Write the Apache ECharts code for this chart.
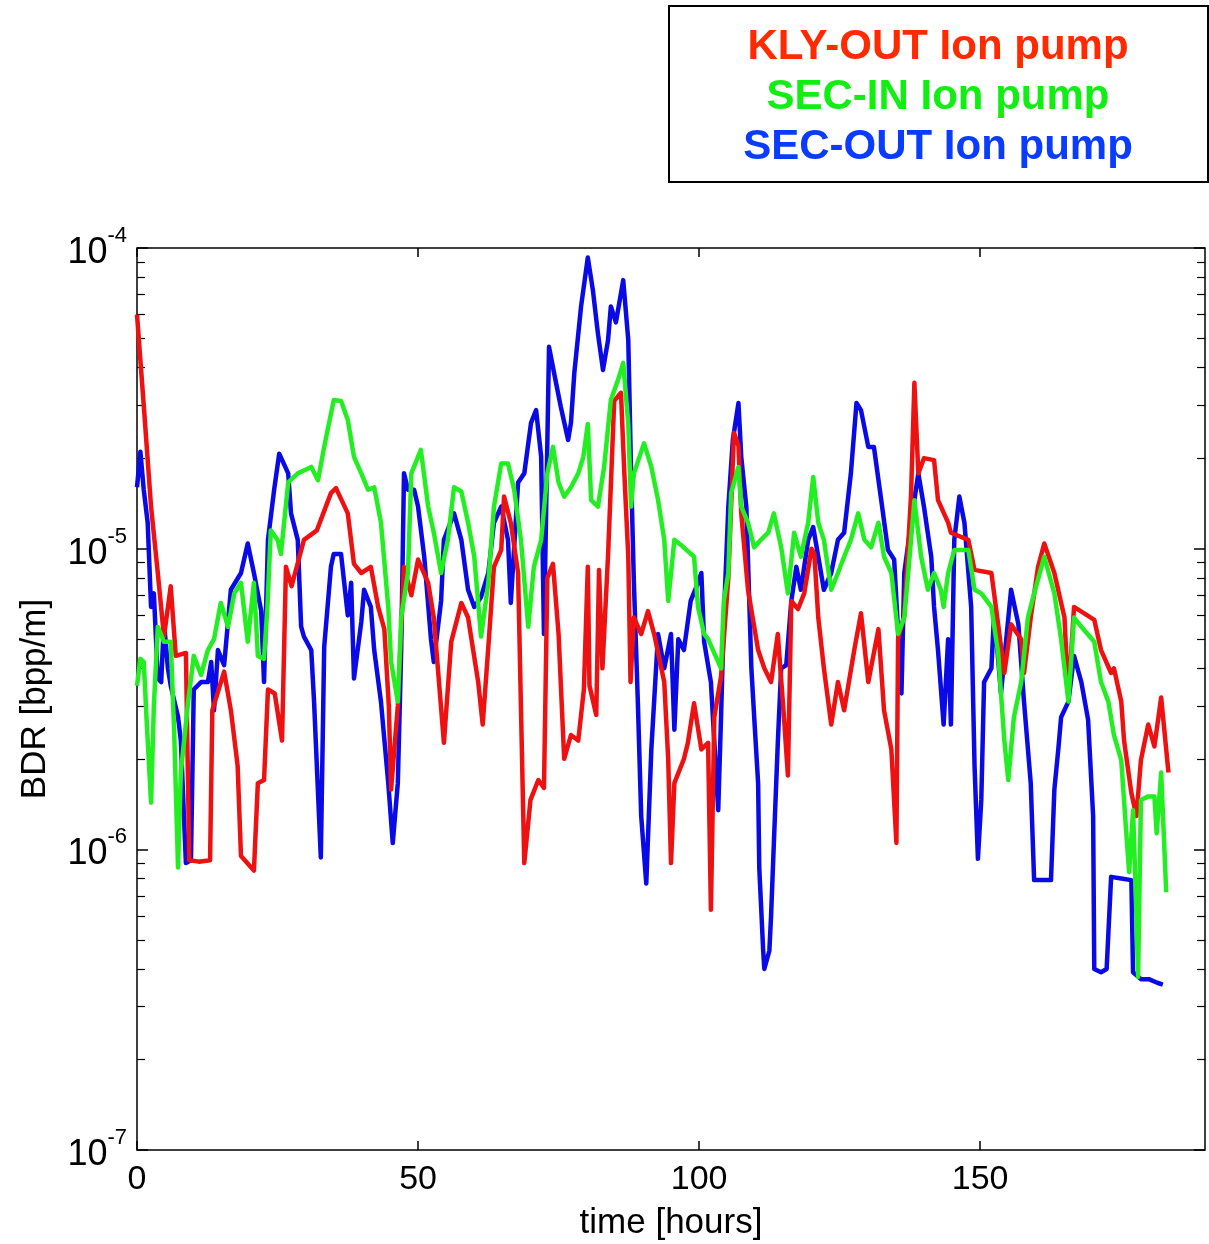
<!DOCTYPE html>
<html>
<head>
<meta charset="utf-8">
<script src="https://cdn.jsdelivr.net/npm/echarts@6/dist/echarts.min.js"></script>
<style>
  html, body { margin: 0; padding: 0; background: #fff; }
  #chart { width: 1209px; height: 1244px; }
</style>
</head>
<body>
<div id="chart"></div>
<script>
// Breakdown rate (BDR) in units of 1e-6 bpp/m, versus time in hours
const klyOutTime = [0,1.2,2.5,3.7,4.8,6,6.9,8.7,9.3,11,13,13.4,15.5,16.7,17.9,18.5,20.8,21.5,22.6,23.3,24.5,25.8,26.5,27.5,29.7,32,34.5,35.4,37.5,38.6,39.9,41.6,42.9,44,44.8,45.2,46.4,47.5,48.8,50,51.8,52.8,54.6,55.9,57.7,58.9,60.7,61.5,62.6,63.5,64.8,65.3,66.5,67.8,68.3,68.9,70,71.4,72.4,73,74,75,76,77.2,78.5,79.5,80.2,80.5,81.7,82.2,82.8,83.8,84.9,86.1,86.7,87.4,87.8,88.4,89.7,90.9,92,93.8,94.5,95,95.6,97.3,98,99.1,100.4,101.6,102.1,102.7,103.9,105.2,106.2,107,107.5,108.7,109.8,110.5,111.6,112.8,114,115.1,115.8,116.4,117.6,118.7,120,120.5,121.2,122.2,123.5,124.7,125.8,127.6,128.8,130.1,131.9,132.9,134.2,135.1,135.4,136.5,137.7,138.3,139,140,141.8,142.5,144.3,144.8,147.9,149,152,153.2,154.3,155.5,157.3,157.8,159,160.3,161.4,163.2,165,165.7,166.7,170.3,171.5,173.3,173.8,175.1,175.6,176.9,177.8,178.6,179.9,181,182.2,183.5];
const klyOutBDR  = [60,30,13.8,8.3,5.1,7.5,4.4,4.5,0.92,0.91,0.92,2.9,3.9,2.9,1.9,0.95,0.85,1.66,1.7,3.4,3.3,2.3,8.7,7.5,10.7,11.5,15.3,15.9,13.1,8.9,8.3,8.7,6.4,5.4,3.0,1.58,3.0,8.7,7.0,9.2,7.7,5.9,2.26,4.9,6.6,5.9,3.6,2.6,5.0,8.7,9.9,14.9,12.2,8.3,3.0,0.90,1.46,1.7,1.6,8.0,8.9,5.2,2.0,2.4,2.3,3.4,8.7,3.5,2.8,8.5,4.0,9.5,31,33,17.8,9.4,3.6,5.9,5.2,6.2,5.2,3.6,2.0,0.9,1.66,2.0,2.26,3.06,2.15,2.26,0.63,2.75,3.75,8,24.3,22,13.1,7.3,5.5,4.6,4.0,3.6,5.2,2.75,1.76,6.7,6.3,7.1,10,9.6,5.9,4.0,2.6,3.6,2.9,4.6,6.1,3.6,5.4,2.9,2.15,1.05,5.0,6.0,15,35.6,17.8,20,19.7,14.5,12.2,11.3,10.7,8.5,8.3,5.6,3.86,5.6,5.0,3.86,5.9,8.7,10.4,8.3,5.9,3.2,6.4,5.8,4.6,3.86,4.0,3.1,2.3,1.54,1.29,1.98,2.6,2.2,3.2,1.8];

const secInTime = [0,0.6,1.2,1.8,2.5,3,3.7,4.8,6,6.6,7.3,7.8,9.1,10.1,11.4,12.6,13.7,14.9,16.2,17.3,18.5,19.7,20.8,21.5,22.6,23.2,23.8,25,25.6,26.9,28.6,31,32.2,33.3,35,36.3,37.5,38.6,39.9,41.1,42.2,43.4,44.7,45.2,46.4,47,48.2,48.8,50.5,51.8,52.8,54.1,55.3,56.4,57.7,58.9,60,61.2,62.5,63.5,64.8,66,67.1,68.3,69.6,70.6,71.9,73,74,75,76,77.2,78.5,79.4,80.2,80.8,82,83.1,84.3,85.6,86.5,87.4,87.9,88.4,90.2,91.5,92.7,93.8,94.5,95.6,97,99.1,99.8,100.9,101.6,103.9,104.4,105.2,105.7,107,107.5,108.7,109.8,111,112.3,113.3,114.6,115.8,116.9,118.1,119.4,120.3,121.2,122.2,123.5,124.7,125.8,127,128.3,129.4,130.6,131.9,132.9,134.2,135.4,136.5,137.2,138.3,139.5,140.7,141.8,143,143.5,144.3,145.4,147.9,149,150.2,152,153.2,154.3,155,156,157.3,158.5,159.6,161.4,163.2,164.4,165.7,166.7,168,170.3,171.5,172.8,173.8,175.1,176,176.5,177.2,177.6,178.1,178.6,179.9,181,181.4,182.2,183.1];
const secInBDR  = [3.5,4.3,4.2,2.5,1.43,3.0,5.5,4.9,4.9,2.5,0.87,1.8,3.1,4.4,3.8,4.6,5.0,6.6,5.5,7.1,7.7,4.9,7.7,4.4,4.3,6.4,11.5,10.7,9.6,16.6,17.8,18.7,16.9,21.8,31.2,31,26.8,20.2,17.8,15.7,16,12.2,6.4,4.2,3.1,5.9,8.3,17.8,21.3,13.8,11.3,8.3,10.7,16,15.5,12.2,9.4,5.1,7.7,13.8,19.2,19.2,15.7,10.7,5.5,8.7,10.7,17.8,21.8,16.6,14.9,16,17.8,20.2,26,14.5,13.8,18.7,31.2,36.5,41.5,26,13.8,17.8,22.4,18.7,14.5,10.7,6.7,10.7,10.2,9.4,6.4,5.2,5.0,4.0,6.7,8.3,15.3,18.7,13.8,12.2,10.1,10.7,11.3,13.1,10.1,7.1,11.3,9.4,12.2,17.3,12.2,10.7,7.3,8.3,9.4,10.7,13.1,10.7,10.1,12.2,9.4,8.3,5.2,5.9,8.3,14.5,9.4,7.3,8.3,7.3,6.4,8.3,9.9,9.9,7.3,7.1,6.4,4.5,2.3,1.7,2.75,3.6,5.9,7.1,9.4,7.1,5.0,3.1,5.9,5.5,4.9,3.6,3.1,2.4,1.98,1.13,0.84,1.35,0.8,0.377,1.46,1.5,1.5,1.13,1.8,0.72];

const secOutTime = [0,0.6,1.2,1.9,2.5,3,3.7,4.3,4.8,5.5,6,7.3,7.8,8.7,9.6,10.1,11.4,12.6,13.2,13.7,14.4,15.5,16.7,18.5,19.7,20.8,22.1,22.6,23.3,24.4,25.3,26.9,27.4,28.6,29.2,29.7,31,31.5,32.7,33.3,34.5,35,36.3,37.5,38.1,38.6,39.9,40.4,41.6,42.2,43.4,44.7,45.5,46.4,47,47.5,48.2,49.3,50,51.1,52.3,52.8,54.1,54.6,56.4,57.7,58.9,60,61.2,62.5,63.5,64.8,66,66.5,67.8,68.9,70.1,71,71.9,72.4,73.3,74.2,75.4,76.7,77.2,77.8,79,80.2,81.1,82,82.9,83.8,84.3,85.2,86.5,87.4,87.9,88.4,89.1,89.7,90.6,91.5,92.7,93.8,95,95.6,96.3,97.3,98.5,99.8,100.4,100.9,102.1,103.4,103.9,104.4,105.2,106,107,107.5,108.4,109.3,109.8,110.5,110.7,111.4,111.6,112.5,112.8,113.3,114,114.6,115.5,116.4,117.3,118.1,119.4,120.3,121.2,122.2,123.5,124.7,125.8,127,128,128.8,130.1,131.1,132.4,133.6,134.7,136,136.5,137.7,139,140,141.3,141.8,142.5,143.5,144.3,144.8,145.4,146.3,147.2,148.4,149,149.6,150.2,150.7,152,152.5,153.7,155.5,156.8,157.8,159,159.6,162.6,163.2,163.9,164.4,165.7,166.7,168,169.2,170.1,170.3,171.5,172.5,173.3,175.1,176.9,177.2,178.6,180,181.5,182.5];
const secOutBDR  = [16,21,15.7,12.2,6.4,7.1,3.7,3.6,5.7,4.0,3.5,2.76,2.3,0.9,0.92,3.4,3.6,3.6,4.2,2.9,4.6,4.1,7.3,8.3,10.4,8.3,6.2,3.6,10.7,15.7,20.7,17.8,13.1,10.7,5.5,5.1,4.6,3.1,0.94,4.7,8.7,9.6,9.6,6.0,7.7,3.7,5.7,7.3,6.4,4.6,3.1,1.66,1.05,1.66,4.6,17.8,15.7,15.7,13.8,9.4,5.0,4.2,6.7,10.7,13.1,10.7,7.3,6.4,6.9,8.3,12.2,13.8,10.7,6.6,16.6,17.8,26.2,28.9,20.2,5.2,46.9,38.4,29.6,23,26.2,38.4,63.9,93,72.5,52,39.3,49.4,63.9,56.6,78.2,49.4,17.8,7.7,3.1,1.29,0.77,2.15,5.2,4.0,5.2,2.5,5.0,4.6,6.7,7.7,8.3,4.9,3.6,1.35,2.75,5.9,13.8,23,30.5,20.2,13.8,4.0,2.75,1.66,0.87,0.46,0.40,0.46,0.6,1.05,2.26,4.0,4.1,6.7,8.7,7.3,10.7,11.8,9.4,7.3,8.3,10.7,11.3,17.8,30.5,28.9,21.8,21.8,14.5,9.9,9.2,3.3,8.3,12.2,17.8,13.8,9.4,6.4,4.6,2.6,5.0,2.6,10.7,14.9,12.2,6.4,1.9,0.93,1.46,3.6,4.0,6.2,3.3,7.3,5.6,3.1,1.66,0.79,0.79,1.58,2.15,2.75,3.1,4.4,3.6,2.7,1.29,0.40,0.39,0.40,0.81,0.80,0.79,0.39,0.37,0.37,0.36,0.355];

const seriesNames = ['KLY-OUT Ion pump', 'SEC-IN Ion pump', 'SEC-OUT Ion pump'];
const xTickValues = [0, 50, 100, 150];
const yDecades = [1e-7, 1e-6, 1e-5, 1e-4];
const UNIT = 1e-6;

const toPairs = (ts, vs) => ts.map((t, i) => [t, vs[i] * UNIT]);

const minorTicks = [];
for (let e = -7; e < -4; e++) {
  for (let m = 2; m <= 9; m++) minorTicks.push(m * Math.pow(10, e));
}

const FONT = '"Liberation Sans", Arial, Helvetica, sans-serif';
const chart = echarts.init(document.getElementById('chart'), null, { renderer: 'canvas' });

function supLabel(v) {
  const e = Math.round(Math.log10(v));
  return '{b|10}{s|' + e + '}';
}

const logAxisBase = {
  type: 'log', logBase: 10, min: 1e-7, max: 1e-4,
  axisLine: { show: false },
  splitLine: { show: false },
  minorTick: { show: false },
  minorSplitLine: { show: false }
};

const lineBase = { type: 'line', xAxisIndex: 0, yAxisIndex: 0, showSymbol: false, symbol: 'none', clip: true };

const option = {
  backgroundColor: '#ffffff',
  animation: false,
  grid: {
    left: 137, top: 248, right: 4, bottom: 94,
    outerBoundsMode: 'none', containLabel: false,
    show: true, borderColor: '#000', borderWidth: 1.5, backgroundColor: 'transparent'
  },
  xAxis: [
    {
      type: 'value', min: 0, max: 190, interval: 50, position: 'bottom',
      axisLine: { show: false },
      splitLine: { show: false },
      axisTick: { show: true, inside: true, length: 9, lineStyle: { color: '#000', width: 1.5 }, customValues: xTickValues },
      axisLabel: { show: true, customValues: xTickValues, color: '#000', fontSize: 34, fontFamily: FONT, margin: 13 },
      name: 'time [hours]', nameLocation: 'middle', nameGap: 56,
      nameTextStyle: { color: '#000', fontSize: 35, fontFamily: FONT }
    },
    {
      type: 'value', min: 0, max: 190, interval: 50, position: 'top',
      axisLine: { show: false }, splitLine: { show: false },
      axisTick: { show: true, inside: true, length: 9, lineStyle: { color: '#000', width: 1.5 }, customValues: xTickValues },
      axisLabel: { show: false }
    }
  ],
  yAxis: [
    Object.assign({}, logAxisBase, {
      position: 'left',
      axisTick: { show: true, inside: true, length: 11, lineStyle: { color: '#000', width: 1.5 }, customValues: yDecades },
      axisLabel: {
        show: true, customValues: yDecades, margin: 10,
        formatter: supLabel,
        rich: {
          b: { fontSize: 36, fontFamily: FONT, color: '#000', lineHeight: 46, verticalAlign: 'bottom' },
          s: { fontSize: 22, fontFamily: FONT, color: '#000', verticalAlign: 'top', lineHeight: 22 }
        }
      },
      name: 'BDR [bpp/m]', nameLocation: 'middle', nameGap: 84, nameRotate: 90,
      nameTextStyle: { color: '#000', fontSize: 35, fontFamily: FONT }
    }),
    Object.assign({}, logAxisBase, {
      position: 'left',
      axisTick: { show: true, inside: true, length: 8, lineStyle: { color: '#000', width: 1.2 }, customValues: minorTicks },
      axisLabel: { show: false }
    }),
    Object.assign({}, logAxisBase, {
      position: 'right',
      axisTick: { show: true, inside: true, length: 11, lineStyle: { color: '#000', width: 1.5 }, customValues: yDecades },
      axisLabel: { show: false }
    }),
    Object.assign({}, logAxisBase, {
      position: 'right',
      axisTick: { show: true, inside: true, length: 8, lineStyle: { color: '#000', width: 1.2 }, customValues: minorTicks },
      axisLabel: { show: false }
    })
  ],
  series: [
    Object.assign({}, lineBase, {
      name: seriesNames[2], data: toPairs(secOutTime, secOutBDR),
      lineStyle: { color: '#0a0ae6', width: 4.5, join: 'round' }, z: 2
    }),
    Object.assign({}, lineBase, {
      name: seriesNames[0], data: toPairs(klyOutTime, klyOutBDR),
      lineStyle: { color: '#ee1111', width: 4.5, join: 'round' }, z: 3
    }),
    Object.assign({}, lineBase, {
      name: seriesNames[1], data: toPairs(secInTime, secInBDR),
      lineStyle: { color: '#22ee22', width: 4.5, join: 'round' }, z: 4
    })
  ],
  graphic: [
    {
      type: 'rect', left: 668, top: 5,
      shape: { width: 539, height: 176 },
      style: { fill: '#fff', stroke: '#000', lineWidth: 2 }
    },
    {
      type: 'text', x: 938, y: 47,
      style: { text: seriesNames[0], fill: '#ff2a00', font: 'bold 42px ' + FONT, textAlign: 'center', textVerticalAlign: 'middle' }
    },
    {
      type: 'text', x: 938, y: 97,
      style: { text: seriesNames[1], fill: '#11ee11', font: 'bold 42px ' + FONT, textAlign: 'center', textVerticalAlign: 'middle' }
    },
    {
      type: 'text', x: 938, y: 147,
      style: { text: seriesNames[2], fill: '#0a3cff', font: 'bold 42px ' + FONT, textAlign: 'center', textVerticalAlign: 'middle' }
    }
  ]
};

chart.setOption(option);
</script>
</body>
</html>
